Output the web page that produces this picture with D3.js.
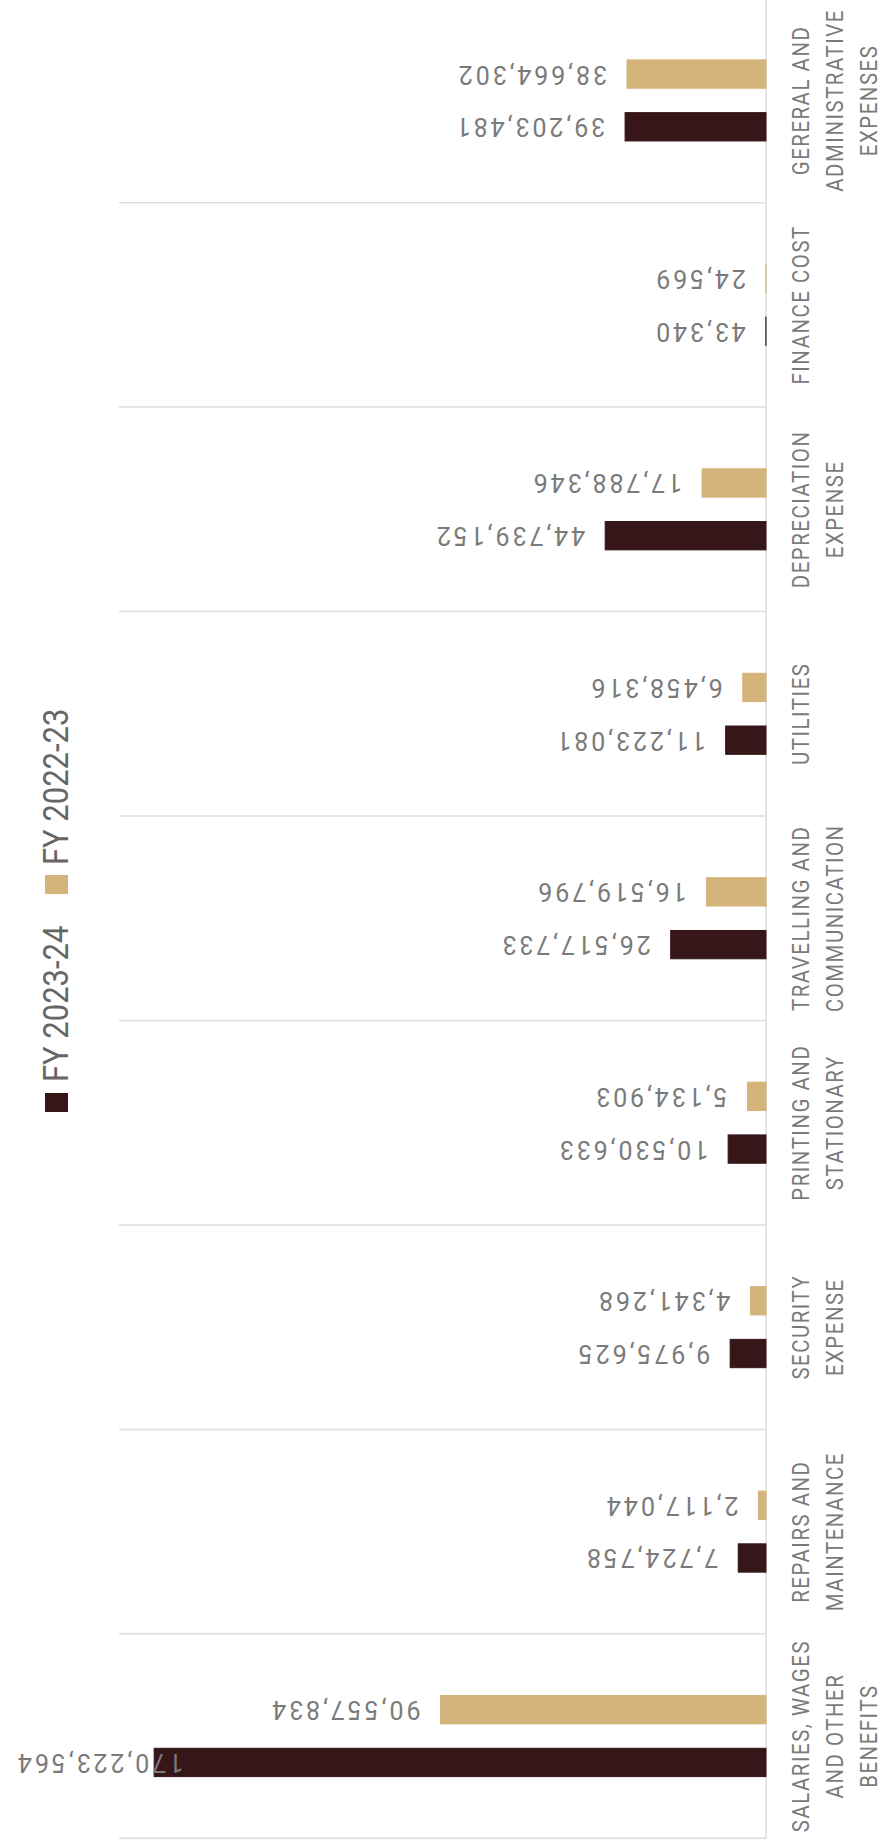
<!DOCTYPE html>
<html>
<head>
<meta charset="utf-8">
<script src="https://cdn.jsdelivr.net/npm/d3@7"></script>
<style>
  html, body { margin: 0; padding: 0; background: #ffffff; }
  svg { display: block; }
  text { font-family: Roboto, "Noto Sans", sans-serif; }
</style>
</head>
<body>
<svg id="chart" width="883" height="1847"></svg>
<script>
// Expense heads, listed from the bottom of the chart upwards
const categories = [
  ["SALARIES, WAGES", "AND OTHER", "BENEFITS"],
  ["REPAIRS AND", "MAINTENANCE"],
  ["SECURITY", "EXPENSE"],
  ["PRINTING AND", "STATIONARY"],
  ["TRAVELLING AND", "COMMUNICATION"],
  ["UTILITIES"],
  ["DEPRECIATION", "EXPENSE"],
  ["FINANCE COST"],
  ["GERERAL AND", "ADMINISTRATIVE", "EXPENSES"]
];
const seriesNames = ["FY 2023-24", "FY 2022-23"];
const fy2324 = [170223564, 7724758, 9975625, 10530633, 26517733, 11223081, 44739152, 43340, 39203481];
const fy2223 = [90557834, 2117044, 4341268, 5134903, 16519796, 6458316, 17788346, 24569, 38664302];

const colors = { "FY 2023-24": "#361618", "FY 2022-23": "#d4b47a" };
const textColor = "#7a7a7a";
const gridColor = "#dddddd";

const svg = d3.select("#chart");
const catKeys = categories.map(c => c.join(" "));

// Value axis runs right-to-left from the baseline
const x = d3.scaleLinear().domain([0, 180000000]).range([766, 119]);
const y = d3.scaleBand().domain(catKeys).range([1838.3, -1.8]);
const yInner = d3.scaleBand()
  .domain(["FY 2022-23", "FY 2023-24"])
  .range([0, y.bandwidth()])
  .paddingInner(0.463)
  .paddingOuter(1.17);

const rows = catKeys.map((k, i) => ({
  key: k,
  lines: categories[i],
  values: [
    { series: "FY 2022-23", value: fy2223[i] },
    { series: "FY 2023-24", value: fy2324[i] }
  ]
}));

// Band separators
const grid = svg.append("g");
grid.selectAll("line")
  .data(catKeys)
  .join("line")
  .attr("x1", x.range()[1])
  .attr("x2", x(0))
  .attr("y1", d => y(d) + y.bandwidth())
  .attr("y2", d => y(d) + y.bandwidth())
  .attr("stroke", gridColor)
  .attr("stroke-width", 1.5);

// Baseline
svg.append("line")
  .attr("x1", x(0)).attr("x2", x(0))
  .attr("y1", 0).attr("y2", y.range()[0])
  .attr("stroke", gridColor)
  .attr("stroke-width", 1.5);

const groups = svg.append("g").selectAll("g")
  .data(rows)
  .join("g")
  .attr("transform", d => `translate(0,${y(d.key)})`);

groups.selectAll("rect")
  .data(d => d.values)
  .join("rect")
  .attr("x", d => x(d.value))
  .attr("y", d => yInner(d.series))
  .attr("width", d => x(0) - x(d.value))
  .attr("height", yInner.bandwidth())
  .attr("fill", d => colors[d.series])
  .attr("stroke", d => colors[d.series])
  .attr("stroke-width", 1);

// Value labels, drawn upside down beyond each bar end
const fmt = d3.format(",");
groups.selectAll("text.value")
  .data(d => d.values)
  .join("text")
  .attr("class", "value")
  .text(d => fmt(d.value))
  .attr("fill", textColor)
  .attr("font-size", 25)
  .attr("letter-spacing", "2.9px")
  .attr("dominant-baseline", "central")
  .each(function(d) {
    const len = this.getComputedTextLength();
    let ax = x(d.value) - 20;
    if (ax - len < 15) ax = 15 + len;
    const cy = yInner(d.series) + yInner.bandwidth() / 2;
    d3.select(this).attr("transform", `translate(${ax},${cy}) rotate(180)`);
  });

// Category labels, rotated to read upwards
groups.append("text")
  .attr("class", "cat")
  .attr("transform", `translate(809,${y.bandwidth() / 2}) rotate(-90) scale(0.85,1)`)
  .attr("text-anchor", "middle")
  .attr("fill", textColor)
  .attr("font-size", 24)
  .attr("letter-spacing", "1.8px")
  .selectAll("tspan")
  .data(d => d.lines)
  .join("tspan")
  .attr("x", 0)
  .attr("y", (d, i) => i * 34)
  .text(d => d);

// Legend
const legend = [
  { name: "FY 2023-24", sq: 1093, textStart: 1082 },
  { name: "FY 2022-23", sq: 875, textStart: 865 }
];
const lg = svg.append("g");
lg.selectAll("rect")
  .data(legend)
  .join("rect")
  .attr("x", 45)
  .attr("y", d => d.sq)
  .attr("width", 23)
  .attr("height", 19)
  .attr("fill", d => colors[d.name]);
lg.selectAll("text")
  .data(legend)
  .join("text")
  .attr("transform", d => `translate(68,${d.textStart}) rotate(-90) scale(0.86,1)`)
  .attr("fill", "#666666")
  .attr("font-size", 36)
  .text(d => d.name);
</script>
</body>
</html>
